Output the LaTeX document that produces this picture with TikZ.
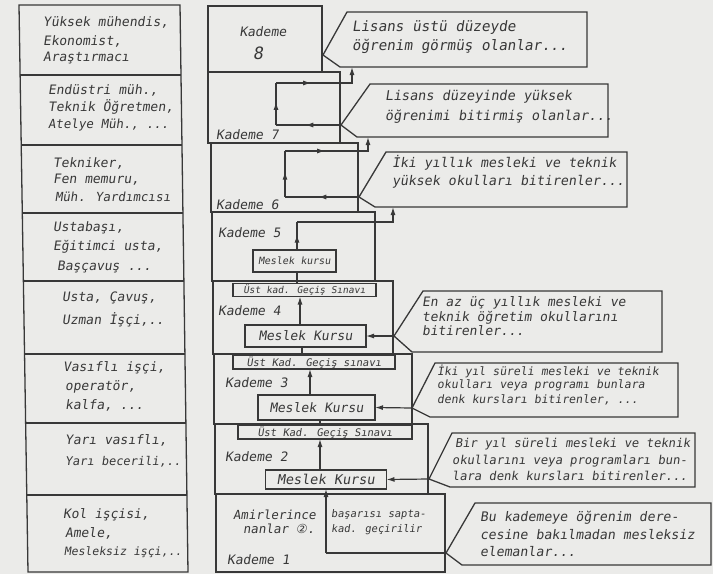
\documentclass[tikz,border=0pt]{standalone}
\usepackage{fontspec}
\newfontfamily\hand{DejaVu Sans Mono}[FakeSlant=0.15]
\newfontfamily\dvs{DejaVu Sans}[FakeSlant=0.15]
\usetikzlibrary{arrows.meta,decorations.markings}
\definecolor{paper}{HTML}{EBEBE9}
\definecolor{ink}{HTML}{383838}
\tikzset{
  hw/.style={font=\hand\fontsize{#1}{#1}\selectfont, text=ink, inner sep=0pt},
  hl/.style={hw=#1, anchor=west},
  kbox/.style={draw=ink, line width=1.3pt, inner sep=0pt, outer sep=0pt, rectangle},
  wire/.style={draw=ink, line width=1.2pt},
  >={Latex[length=8pt,width=5pt]},
  midarrow/.style={wire, postaction={decorate,decoration={markings,mark=at position 0.55 with {\arrow[ink]{Latex[length=8pt,width=5pt]}}}}},
  callout/.style={draw=ink, line width=1.3pt, line join=miter}
}
\begin{document}
\begin{tikzpicture}[x=1pt,y=-1pt]
\useasboundingbox (0,0) rectangle (713,574);
\fill[paper] (0,0) rectangle (713,574);

% ---------- left column ----------
\draw[callout] (19,5) -- (180,5) -- (188,572) -- (28,572) -- cycle;
\draw[callout] (20.1,75) -- (181.0,75);
\draw[callout] (21.2,145) -- (182.0,145);
\draw[callout] (22.3,213) -- (182.9,213);
\draw[callout] (23.4,281) -- (183.9,281);
\draw[callout] (24.5,354) -- (184.9,354);
\draw[callout] (25.6,423) -- (185.9,423);
\draw[callout] (26.8,495) -- (186.9,495);

\node[hl=13] (a1) at (43,22) {Yüksek mühendis,};
\node[hl=13] (a2) at (43,41) {Ekonomist,};
\node[hl=13] (a3) at (43,58) {Araştırmacı};
\node[hl=13] (b1) at (48,90) {Endüstri müh.,};
\node[hl=13] (b2) at (48,107) {Teknik Öğretmen,};
\node[hl=12.5] (b3) at (48,125) {Atelye Müh., ...};
\node[hl=13] (d1) at (53,163) {Tekniker,};
\node[hl=13] (d2) at (53,180) {Fen memuru,};
\node[hl=12.5] (d3) at (55,197) {Müh. Yardımcısı};
\node[hl=13] (e1) at (53,228) {Ustabaşı,};
\node[hl=13] (e2) at (53,247) {Eğitimci usta,};
\node[hl=13] (e3) at (57,267) {Başçavuş ...};
\node[hl=13] (f1) at (62,298) {Usta, Çavuş,};
\node[hl=13] (f2) at (62,320) {Uzman İşçi,..};
\node[hl=13] (g1) at (63,368) {Vasıflı işçi,};
\node[hl=13] (g2) at (65,387) {operatör,};
\node[hl=13] (g3) at (65,405) {kalfa, ...};
\node[hl=13] (h1) at (65,440) {Yarı vasıflı,};
\node[hl=12] (h2) at (65,462) {Yarı becerili,..};
\node[hl=13] (i1) at (63,515) {Kol işçisi,};
\node[hl=13] (i2) at (65,533) {Amele,};
\node[hl=11.5] (i3) at (64,552) {Mesleksiz işçi,..};

% ---------- Kademe boxes ----------
\node[kbox, minimum width=229, minimum height=78] (k1) at (330.5,533) {};
\node[kbox, minimum width=213, minimum height=70] (k2) at (321.5,459) {};
\node[kbox, minimum width=198, minimum height=70] (k3) at (313,389) {};
\node[kbox, minimum width=180, minimum height=73] (k4) at (303,317.5) {};
\node[kbox, minimum width=163, minimum height=69] (k5) at (293.5,246.5) {};
\node[kbox, minimum width=147, minimum height=69] (k6) at (284.5,177.5) {};
\node[kbox, minimum width=132, minimum height=71] (k7) at (274,107.5) {};
\node[kbox, minimum width=114, minimum height=66] (k8) at (265,39) {};

\node[hw=13] (t8a) at (263,32) {Kademe};
\node[hw=17] (t8b) at (258,53) {8};
\node[hl=13] (t7) at (216,135) {Kademe 7};
\node[hl=13] (t6) at (216,205) {Kademe 6};
\node[hl=13] (t5) at (218,233) {Kademe 5};
\node[hl=13] (t4) at (218,311) {Kademe 4};
\node[hl=13] (t3) at (225,383) {Kademe 3};
\node[hl=13] (t2) at (225,457) {Kademe 2};
\node[hl=13] (t1) at (227,560) {Kademe 1};

% ---------- exam boxes ----------
\node[kbox, fill=paper, minimum width=143, minimum height=13] (ex1) at (304.5,290) {};
\node[hw=9.5] (ex1t) at (304.5,290.5) {Üst kad. Geçiş Sınavı};
\node[kbox, fill=paper, minimum width=162, minimum height=14] (ex2) at (314,362) {};
\node[hw=10.5] (ex2t) at (314,362.5) {Üst Kad. Geçiş sınavı};
\node[kbox, fill=paper, minimum width=174, minimum height=14] (ex3) at (325,432) {};
\node[hw=10.5] (ex3t) at (325,432.5) {Üst Kad. Geçiş Sınavı};

% ---------- Meslek Kursu boxes ----------
\node[kbox, minimum width=83, minimum height=22, hw=10] (mk5) at (294.5,261) {Meslek kursu};
\node[kbox, minimum width=121, minimum height=22, hw=13] (mk4) at (305.5,336) {Meslek Kursu};
\node[kbox, minimum width=117, minimum height=25, hw=13] (mk3) at (316.5,407.5) {Meslek Kursu};
\node[kbox, minimum width=121, minimum height=19, hw=13.5] (mk2) at (326,479.5) {Meslek Kursu};

% ---------- Kademe 1 text ----------
\node[hl=12.5] (am1) at (233,515) {Amirlerince};
\node[hl=12.5] (am2) at (243,529) {nanlar {\dvs ②}.};
\node[hl=10.5] (am3) at (331,515) {başarısı sapta-};
\node[hl=10.5] (am4) at (331,530) {kad. geçirilir};

% ---------- callouts ----------
\coordinate (c1t) at (323,55);  \coordinate (c1b) at (352,67);
\coordinate (c2t) at (341,125); \coordinate (c2b) at (368,137);
\coordinate (c3t) at (359,197); \coordinate (c3b) at (393,207);
\coordinate (c4t) at (394,336);
\coordinate (c5t) at (412,408);
\coordinate (c6t) at (429,479);
\coordinate (c7t) at (446,553);

\draw[callout] (347,12) -- (587,12) -- (587,67) -- (340,67) -- (c1t) -- cycle;
\draw[callout] (370,84) -- (608,84) -- (608,137) -- (357,137) -- (c2t) -- cycle;
\draw[callout] (386,152) -- (627,152) -- (627,207) -- (375,207) -- (c3t) -- cycle;
\draw[callout] (423,291) -- (662,291) -- (662,352) -- (412,352) -- (c4t) -- cycle;
\draw[callout] (435,363) -- (678,363) -- (678,417) -- (430,417) -- (c5t) -- cycle;
\draw[callout] (452,433) -- (695,433) -- (695,487) -- (450,487) -- (c6t) -- cycle;
\draw[callout] (475,503) -- (711,503) -- (711,565) -- (462,565) -- (c7t) -- cycle;

\node[hl=14.3] (c1x) at (352,28) {Lisans üstü düzeyde};
\node[hl=14.3] (c1y) at (352,46) {öğrenim görmüş olanlar...};
\node[hl=13.5] (c2x) at (385,97) {Lisans düzeyinde yüksek};
\node[hl=13.5] (c2y) at (385,117) {öğrenimi bitirmiş olanlar...};
\node[hl=13.3] (c3x) at (392,163) {İki yıllık mesleki ve teknik};
\node[hl=13.3] (c3y) at (392,182) {yüksek okulları bitirenler...};
\node[hl=13] (c4x) at (422,303) {En az üç yıllık mesleki ve};
\node[hl=13] (c4y) at (422,318) {teknik öğretim okullarını};
\node[hl=13] (c4z) at (422,331) {bitirenler...};
\node[hl=11.5] (c5x) at (437,371) {İki yıl süreli mesleki ve teknik};
\node[hl=11.5] (c5y) at (437,385) {okulları veya programı bunlara};
\node[hl=11.5] (c5z) at (437,400) {denk kursları bitirenler, ...};
\node[hl=12.2] (c6x) at (455,444) {Bir yıl süreli mesleki ve teknik};
\node[hl=12.2] (c6y) at (452,461) {okullarını veya programları bun-};
\node[hl=12.2] (c6z) at (452,476) {lara denk kursları bitirenler...};
\node[hl=13.2] (c7x) at (480,518) {Bu kademeye öğrenim dere-};
\node[hl=13.2] (c7y) at (480,535) {cesine bakılmadan mesleksiz};
\node[hl=13.2] (c7z) at (480,552) {elemanlar...};

% ---------- loops Kademe 7 and 6 ----------
\coordinate (p7a) at (276,125); \coordinate (p7b) at (276,83);
\coordinate (p7c) at (340,83);  \coordinate (p7d) at (352,83);
\draw[midarrow] (c2t) -- (p7a);
\draw[midarrow] (p7a) -- (p7b);
\draw[midarrow] (p7b) -- (p7c);
\draw[wire,->] (p7c) -- (p7d) -- (c1b);

\coordinate (p6a) at (285,197); \coordinate (p6b) at (285,151);
\coordinate (p6c) at (358,151); \coordinate (p6d) at (368,151);
\draw[midarrow] (c3t) -- (p6a);
\draw[midarrow] (p6a) -- (p6b);
\draw[midarrow] (p6b) -- (p6c);
\draw[wire,->] (p6c) -- (p6d) -- (c2b);

% ---------- Kademe 5 ----------
\coordinate (p5a) at (297,222); \coordinate (p5b) at (393,222);
\draw[midarrow] ([xshift=2.5pt]mk5.north) -- (p5a);
\draw[wire,->] (p5a) -- (p5b) -- (c3b);
\draw[wire] ([xshift=2.5pt]mk5.south) -- ([xshift=2.5pt]mk5.south |- ex1.north);

% ---------- Kademe 4..2 ----------
\draw[wire,->] (c4t) -- (mk4.east);
\draw[wire,->] ([xshift=-5.5pt]mk4.north) -- ([xshift=-5.5pt]mk4.north |- ex1.south);
\draw[wire] ([xshift=-3.5pt]mk4.south) -- ([xshift=-3.5pt]mk4.south |- ex2.north);

\draw[wire,->] (c5t) -- (mk3.east);
\draw[wire,->] ([xshift=-6.5pt]mk3.north) -- ([xshift=-6.5pt]mk3.north |- ex2.south);
\draw[wire] ([xshift=3.5pt]mk3.south) -- ([xshift=3.5pt]mk3.south |- ex3.north);

\draw[wire,->] (c6t) -- (mk2.east);
\draw[wire,->] ([xshift=-6pt]mk2.north) -- ([xshift=-6pt]mk2.north |- ex3.south);

% ---------- Kademe 1 ----------
\coordinate (q1) at (326,553);
\draw[wire] (c7t) -- (q1);
\draw[wire,->] (q1) -- (mk2.south);
\end{tikzpicture}
\end{document}
